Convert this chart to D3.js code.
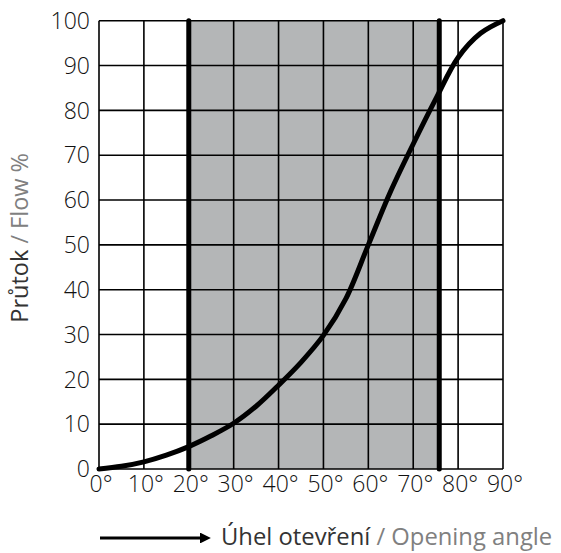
<!DOCTYPE html>
<html lang="cs">
<head>
<meta charset="UTF-8">
<title>Průtok / Flow</title>
<style>
  body { margin: 0; background: #fff; }
  svg { display: block; }
</style>
</head>
<body>
<div id="chart"></div>
<script src="https://d3js.org/d3.v7.min.js"></script>
<script>
const angles = [0, 5, 10, 15, 20, 25, 30, 35, 40, 45, 50, 55, 60, 65, 70, 75, 80, 85, 90]
const flow = [0, 0.6, 1.6, 3.1, 5, 7.4, 10.2, 14, 18.7, 23.8, 29.8, 38, 50, 62, 72.5, 82.5, 91.8, 97.2, 100]
const xTicks = [0, 10, 20, 30, 40, 50, 60, 70, 80, 90]
const yTicks = [0, 10, 20, 30, 40, 50, 60, 70, 80, 90, 100]
const rangeStart = 20
const rangeEnd = 75.8

const width = 561
const height = 553
const margin = { top: 20.7, right: 58, bottom: 84, left: 99 }

const svg = d3.select('#chart')
  .append('svg')
  .attr('width', width)
  .attr('height', height)

const x = d3.scaleLinear().domain([0, 90]).range([margin.left, width - margin.right])
const y = d3.scaleLinear().domain([0, 100]).range([height - margin.bottom, margin.top])

// shaded operating range
svg.append('rect')
  .attr('x', x(rangeStart))
  .attr('y', y(100))
  .attr('width', x(rangeEnd) - x(rangeStart))
  .attr('height', y(0) - y(100))
  .attr('fill', '#b4b6b7')

// grid
svg.append('g')
  .selectAll('line')
  .data(xTicks)
  .join('line')
  .attr('x1', d => x(d)).attr('x2', d => x(d))
  .attr('y1', y(0)).attr('y2', y(100))
  .attr('stroke', '#000').attr('stroke-width', 1.6)

svg.append('g')
  .selectAll('line')
  .data(yTicks)
  .join('line')
  .attr('x1', x(0)).attr('x2', x(90))
  .attr('y1', d => y(d)).attr('y2', d => y(d))
  .attr('stroke', '#000').attr('stroke-width', 1.6)

// range borders
svg.append('g')
  .selectAll('line')
  .data([rangeStart, rangeEnd])
  .join('line')
  .attr('x1', d => x(d)).attr('x2', d => x(d))
  .attr('y1', y(0)).attr('y2', y(100))
  .attr('stroke', '#000').attr('stroke-width', 5)
  .attr('stroke-linecap', 'round')

// tick labels
svg.append('g')
  .selectAll('text')
  .data(yTicks)
  .join('text')
  .attr('x', x(0) - 9)
  .attr('y', d => y(d))
  .attr('dy', '0.36em')
  .attr('text-anchor', 'end')
  .style('font-family', '"Open Sans", sans-serif')
  .style('font-weight', 300)
  .style('font-size', '23px')
  .attr('fill', '#111')
  .text(d => d)

svg.append('g')
  .selectAll('text')
  .data(xTicks)
  .join('text')
  .attr('x', d => x(d) + 2)
  .attr('y', y(0) + 23)
  .attr('text-anchor', 'middle')
  .style('font-family', '"Open Sans", sans-serif')
  .style('font-weight', 300)
  .style('font-size', '23px')
  .attr('fill', '#111')
  .text(d => d + '°')

// curve
const line = d3.line()
  .x((d, i) => x(angles[i]))
  .y(d => y(d))
  .curve(d3.curveCatmullRom.alpha(0.5))

svg.append('path')
  .datum(flow)
  .attr('d', line)
  .attr('fill', 'none')
  .attr('stroke', '#000')
  .attr('stroke-width', 5)
  .attr('stroke-linecap', 'round')

// y axis title
const yTitle = svg.append('text')
  .attr('transform', `translate(28, ${(y(0) + y(100)) / 2 - 7}) rotate(-90)`)
  .attr('text-anchor', 'middle')
  .style('font-family', '"Open Sans", sans-serif')
  .style('font-size', '23.5px')
yTitle.append('tspan').attr('fill', '#333').text('Průtok ')
yTitle.append('tspan').attr('fill', '#808080').text('/ Flow %')

// x axis title with arrow
svg.append('defs').append('marker')
  .attr('id', 'arrow')
  .attr('viewBox', '0 0 10 10')
  .attr('refX', 0).attr('refY', 5)
  .attr('markerWidth', 3.4).attr('markerHeight', 3.4)
  .attr('orient', 'auto')
  .append('path')
  .attr('d', 'M0,0 L10,5 L0,10 Z')
  .attr('fill', '#000')

svg.append('line')
  .attr('x1', 100).attr('x2', 200)
  .attr('y1', 538).attr('y2', 538)
  .attr('stroke', '#000').attr('stroke-width', 3.2)
  .attr('marker-end', 'url(#arrow)')

const xTitle = svg.append('text')
  .attr('x', 221)
  .attr('y', 545)
  .style('font-family', '"Open Sans", sans-serif')
  .style('font-size', '23.8px')
xTitle.append('tspan').attr('fill', '#333').text('Úhel otevření ')
xTitle.append('tspan').attr('fill', '#808080').text('/ Opening angle')
</script>
</body>
</html>
